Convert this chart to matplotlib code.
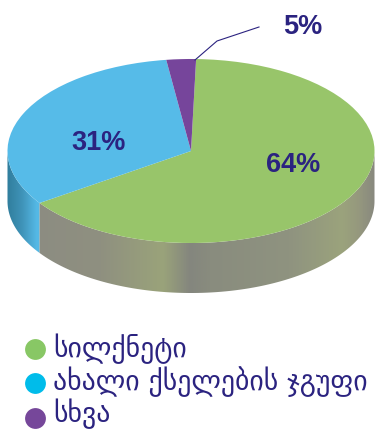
import matplotlib
matplotlib.use('Agg')
import matplotlib.pyplot as plt
from matplotlib.colors import LinearSegmentedColormap, to_rgb
from matplotlib.patches import Polygon
import numpy as np

labels = ['სილქნეტი', 'ახალი ქსელების ჯგუფი', 'სხვა']
pct_labels = ['64%', '31%', '5%']
# slice sizes as they were actually drawn in the picture (tilted 3d pie, not the printed percents)
drawn_sizes = [65, 32.4, 2.6]
colors = ['#98c56a', '#56bbe8', '#76459b']
legend_colors = ['#88c765', '#00bcea', '#76479a']
navy = '#2b2380'

W, H = 382, 430
cx, cy, rx, ry, depth = 191, 151, 183.5, 92, 50
start = 88.4


# pixel position in the picture -> data units (unit circle squashed by the axes)
def px(x, y):
    return (x - cx) / rx, (cy - y) / ry


fig = plt.figure(figsize=(W / 100, H / 100), dpi=100)
ax = fig.add_axes([0, 0, 1, 1])

# shading of the side wall, sampled along x
green_x = [30, 100, 163, 190, 210, 290, 343, 360, 376]
green_c = ['#8c8c82', '#8f9080', '#9aa37a', '#84867e', '#898c7e', '#8f9380', '#9ba37c', '#95987e', '#88887f']
blue_x = [6, 22, 37, 45]
blue_c = ['#2f7c9a', '#3f93b8', '#55b9e6', '#55b9e6']


def wall(a0, a1, xs, cs):
    # gradient image clipped to the strip of the wall between two angles
    t = np.radians(np.linspace(a0, a1, 200))
    d = depth / ry
    pts = np.r_[np.c_[np.cos(t), np.sin(t)], np.c_[np.cos(t[::-1]), np.sin(t[::-1]) - d]]
    x0, x1 = xs[0], xs[-1]
    stops = [(x - x0) / (x1 - x0) for x in xs]
    cmap = LinearSegmentedColormap.from_list('wall', list(zip(stops, [to_rgb(c) for c in cs])))
    left, _ = px(x0, 0)
    right, _ = px(x1, 0)
    im = ax.imshow(np.linspace(0, 1, 400)[None, :], cmap=cmap, aspect='auto', zorder=1,
                   extent=(left, right, -1 - d, 0.2))
    patch = Polygon(pts, closed=True, transform=ax.transData, fc='none', ec='none')
    ax.add_patch(patch)
    im.set_clip_path(patch)


green_end = start - drawn_sizes[0] * 3.6
wall(-180, green_end, blue_x, blue_c)
wall(green_end, 0, green_x, green_c)

wedges, _ = ax.pie(drawn_sizes, colors=colors, startangle=start, counterclock=False,
                   radius=1, center=(0, 0), wedgeprops={'zorder': 2})
ax.set_aspect('auto')
ax.set_xlim(-cx / rx, (W - cx) / rx)
ax.set_ylim((cy - H) / ry, cy / ry)
ax.axis('off')

# percent labels
label_pos = [(293, 165), (99, 143), (303, 27)]
for s, p in zip(pct_labels, label_pos):
    ax.text(*px(*p), s, color=navy, fontsize=19.5, fontweight='bold',
            family='Liberation Sans', ha='center', va='center', zorder=5)

# leader line for the small slice
line_x, line_y = zip(px(195, 60), px(217, 41), px(259, 27))
ax.plot(line_x, line_y, color=navy, lw=0.8, zorder=4)

# legend
legend_y = [349, 383, 418]
text_y = [349, 382, 414]
for s, c, y, ty in zip(labels, legend_colors, legend_y, text_y):
    mx, my = px(35, y)
    ax.plot([mx], [my], 'o', color=c, ms=15, mew=0, zorder=5)
    ax.text(*px(53, ty), s, color=navy, fontsize=20, family='DejaVu Sans',
            ha='left', va='center', zorder=5)

fig.savefig('out.png', dpi=100)
